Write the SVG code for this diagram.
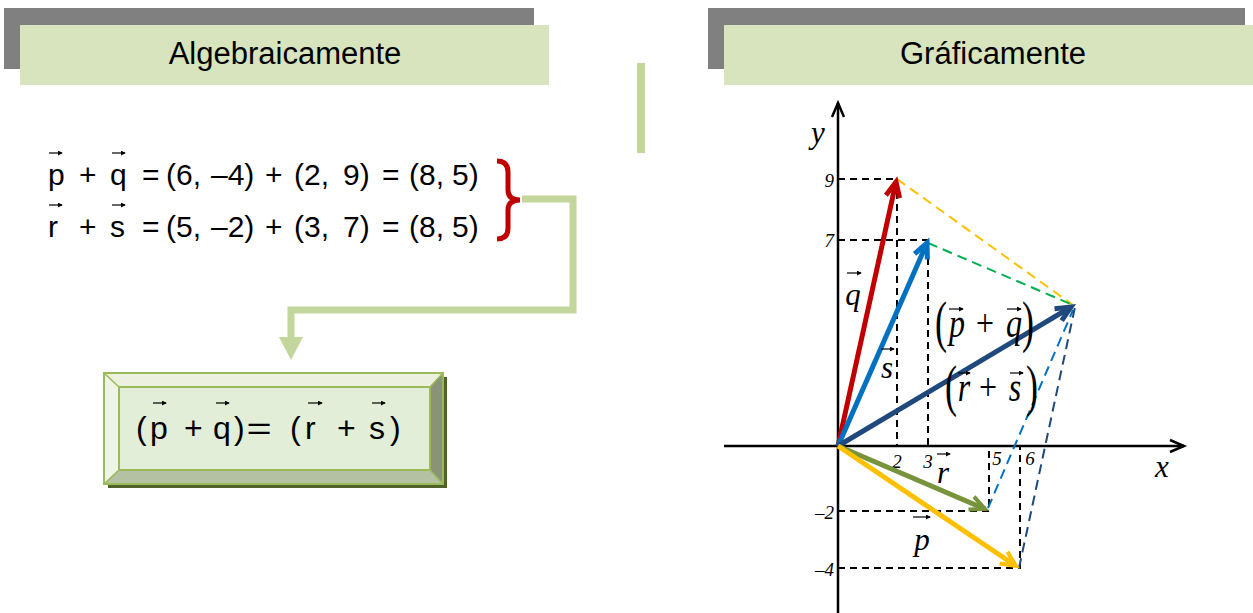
<svg xmlns="http://www.w3.org/2000/svg" width="1253" height="613" viewBox="0 0 1253 613">
<style>
.sans{font-family:"Liberation Sans",Arial,sans-serif;fill:#000}
.ser{font-family:"Liberation Serif","Times New Roman",serif;font-style:italic;fill:#000}
.up{font-family:"Liberation Serif","Times New Roman",serif;fill:#000}
.hdr-g{fill:#808080}
.hdr{fill:#D7E4BD}
.vec{stroke-width:5;fill:none}
.dash{stroke:#000;stroke-width:2;stroke-dasharray:7 5;fill:none}
.cdash{stroke-width:2;stroke-dasharray:10 6;fill:none}
.sa{stroke:#000;stroke-width:1.2;marker-end:url(#sm)}
.ax{stroke:#000;stroke-width:2.5;fill:none;marker-end:url(#axh)}
</style>
<defs>
<marker id="sm" viewBox="0 0 6 6" refX="5" refY="3" markerWidth="5" markerHeight="5" markerUnits="userSpaceOnUse" orient="auto"><path d="M0,0 L6,3 L0,6 z" fill="#000"/></marker>
<marker id="axh" viewBox="0 0 16 14" refX="15" refY="7" markerWidth="16" markerHeight="14" markerUnits="userSpaceOnUse" orient="auto" overflow="visible"><path d="M1,1 L15,7 L1,13" fill="none" stroke="#000" stroke-width="2.5"/></marker>
<marker id="hr" viewBox="0 0 20 18" refX="17" refY="9" markerWidth="20" markerHeight="18" markerUnits="userSpaceOnUse" orient="auto" overflow="visible"><path d="M2,2 L17,9 L2,16" fill="none" stroke="#C00000" stroke-width="5"/></marker>
<marker id="hb" viewBox="0 0 20 18" refX="17" refY="9" markerWidth="20" markerHeight="18" markerUnits="userSpaceOnUse" orient="auto" overflow="visible"><path d="M2,2 L17,9 L2,16" fill="none" stroke="#0070C0" stroke-width="5"/></marker>
<marker id="hn" viewBox="0 0 20 18" refX="17" refY="9" markerWidth="20" markerHeight="18" markerUnits="userSpaceOnUse" orient="auto" overflow="visible"><path d="M2,2 L17,9 L2,16" fill="none" stroke="#1F497D" stroke-width="5"/></marker>
<marker id="hg" viewBox="0 0 20 18" refX="17" refY="9" markerWidth="20" markerHeight="18" markerUnits="userSpaceOnUse" orient="auto" overflow="visible"><path d="M2,2 L17,9 L2,16" fill="none" stroke="#77933C" stroke-width="4"/></marker>
<marker id="hy" viewBox="0 0 20 18" refX="17" refY="9" markerWidth="20" markerHeight="18" markerUnits="userSpaceOnUse" orient="auto" overflow="visible"><path d="M2,2 L17,9 L2,16" fill="none" stroke="#FFC000" stroke-width="4"/></marker>
</defs>
<rect width="1253" height="613" fill="#fff"/>

<g id="title-algebraicamente">
<rect class="hdr-g" x="4" y="8" width="530" height="61"/>
<rect class="hdr" x="20" y="25" width="529" height="60"/>
<text class="sans" x="285" y="64" font-size="31" text-anchor="middle">Algebraicamente</text>
</g>

<g id="title-graficamente">
<rect class="hdr-g" x="708" y="8" width="537" height="61"/>
<rect class="hdr" x="724" y="25" width="529" height="60"/>
<text class="sans" x="993" y="64" font-size="31" text-anchor="middle">Gráficamente</text>
</g>

<g id="divider"><rect x="637" y="63" width="8" height="90" fill="#C3D69B"/></g>

<g id="equations" font-size="30">
<text class="sans" x="48" y="185">p</text>
<text class="sans" x="79" y="185">+</text>
<text class="sans" x="110" y="185">q</text>
<text class="sans" x="142" y="185">=</text>
<text class="sans" x="166" y="185">(6,</text>
<text class="sans" x="211" y="185">–4)</text>
<text class="sans" x="265" y="185">+</text>
<text class="sans" x="294" y="185">(2,</text>
<text class="sans" x="343" y="185">9)</text>
<text class="sans" x="382" y="185">=</text>
<text class="sans" x="409" y="185">(8,</text>
<text class="sans" x="452" y="185">5)</text>
<text class="sans" x="48" y="237">r</text>
<text class="sans" x="79" y="237">+</text>
<text class="sans" x="110" y="237">s</text>
<text class="sans" x="142" y="237">=</text>
<text class="sans" x="166" y="237">(5,</text>
<text class="sans" x="211" y="237">–2)</text>
<text class="sans" x="265" y="237">+</text>
<text class="sans" x="294" y="237">(3,</text>
<text class="sans" x="343" y="237">7)</text>
<text class="sans" x="382" y="237">=</text>
<text class="sans" x="409" y="237">(8,</text>
<text class="sans" x="452" y="237">5)</text>
<line class="sa" x1="49" y1="153" x2="62" y2="153"/>
<line class="sa" x1="112" y1="153" x2="125" y2="153"/>
<line class="sa" x1="49" y1="205" x2="62" y2="205"/>
<line class="sa" x1="112" y1="205" x2="125" y2="205"/>
</g>

<g id="brace">
<path d="M497,161 Q508,161 508,172 L508,190 Q508,200 520,200 Q508,200 508,210 L508,228 Q508,239 497,239" fill="none" stroke="#C00000" stroke-width="5"/>
</g>

<g id="connectors">
<path d="M522,199 L573,199 L573,310 L291,310 L291,338" fill="none" stroke="#C3D69B" stroke-width="7"/>
<polygon points="279,337 303,337 291,360" fill="#C3D69B"/>
</g>

<g id="result-box">
<rect x="108" y="377" width="339" height="111" fill="#4F6228"/>
<polygon points="104,373 443,373 430,387 119,387" fill="#EBF1DE"/>
<polygon points="104,373 119,387 119,470 104,484" fill="#EEF4E6"/>
<polygon points="443,373 443,484 430,470 430,387" fill="#8A9378"/>
<polygon points="104,484 443,484 430,470 119,470" fill="#B4C1A2"/>
<rect x="119" y="387" width="311" height="83" fill="#E2EED8" stroke="#9BBB59" stroke-width="2"/>
<rect x="104" y="373" width="339" height="111" fill="none" stroke="#9BBB59" stroke-width="2"/>
<g stroke="#9BBB59" stroke-width="1.5"><line x1="104" y1="373" x2="119" y2="387"/><line x1="443" y1="373" x2="430" y2="387"/><line x1="104" y1="484" x2="119" y2="470"/><line x1="443" y1="484" x2="430" y2="470"/></g>
<g font-size="32">
<text class="sans" x="136" y="439">(</text>
<text class="sans" x="150" y="439">p</text>
<text class="sans" x="184" y="439">+</text>
<text class="sans" x="213" y="439">q</text>
<text class="sans" x="234" y="439">)</text>
<text class="sans" x="259" y="439" text-anchor="middle" transform="translate(259,0) scale(1.35,1) translate(-259,0)">=</text>
<text class="sans" x="290" y="439">(</text>
<text class="sans" x="305" y="439">r</text>
<text class="sans" x="337" y="439">+</text>
<text class="sans" x="369" y="439">s</text>
<text class="sans" x="390" y="439">)</text>
</g>
<line class="sa" x1="153" y1="403" x2="166" y2="403"/>
<line class="sa" x1="216" y1="403" x2="229" y2="403"/>
<line class="sa" x1="308" y1="403" x2="322" y2="403"/>
<line class="sa" x1="372" y1="403" x2="385" y2="403"/>
</g>

<g id="axes">
<line class="ax" x1="724" y1="446" x2="1184" y2="446"/>
<line class="ax" x1="838" y1="613" x2="838" y2="103"/>
<text class="ser" x="818" y="143" font-size="31" text-anchor="middle">y</text>
<text class="ser" x="1162" y="477" font-size="31" text-anchor="middle">x</text>
</g>

<g id="guides">
<path class="dash" d="M838,179 H897 V446"/>
<path class="dash" d="M838,240 H928 V446"/>
<path class="dash" d="M838,511 H989 V446"/>
<path class="dash" d="M838,568 H1020 V446"/>
<line class="cdash" stroke="#FFC000" x1="897" y1="179" x2="1073" y2="305"/>
<line class="cdash" stroke="#00B050" x1="928" y1="243" x2="1073" y2="305"/>
<line class="cdash" stroke="#0070C0" stroke-width="1.6" x1="988" y1="508" x2="1073" y2="310"/>
<line class="cdash" stroke="#1F497D" x1="1019" y1="568" x2="1075" y2="307"/>
</g>

<g id="ticks" font-size="19">
<text class="ser" x="834" y="187" text-anchor="end">9</text>
<text class="ser" x="834" y="247" text-anchor="end">7</text>
<text class="ser" x="834" y="519" text-anchor="end">–2</text>
<text class="ser" x="834" y="576" text-anchor="end">–4</text>
<text class="ser" x="897" y="468" text-anchor="middle">2</text>
<text class="ser" x="928" y="468" text-anchor="middle">3</text>
<text class="ser" x="997" y="465" text-anchor="middle">5</text>
<text class="ser" x="1030" y="465" text-anchor="middle">6</text>
</g>

<g id="vectors">
<line class="vec" stroke="#C00000" marker-end="url(#hr)" x1="838" y1="446" x2="896" y2="182"/>
<line class="vec" stroke="#0070C0" marker-end="url(#hb)" x1="838" y1="446" x2="927" y2="243"/>
<line class="vec" stroke="#1F497D" marker-end="url(#hn)" x1="838" y1="446" x2="1071" y2="307"/>
<line class="vec" stroke="#77933C" marker-end="url(#hg)" x1="838" y1="446" x2="985" y2="509"/>
<line class="vec" stroke="#FFC000" marker-end="url(#hy)" x1="838" y1="446" x2="1016" y2="566"/>
</g>

<g id="vector-labels">
<text class="ser" x="853" y="305" font-size="31" text-anchor="middle">q</text>
<line class="sa" x1="847" y1="273" x2="861" y2="273"/>
<text class="ser" x="887" y="378" font-size="31" text-anchor="middle">s</text>
<line class="sa" x1="881" y1="349" x2="894" y2="349"/>
<text class="ser" x="943" y="483" font-size="31" text-anchor="middle">r</text>
<line class="sa" x1="937" y1="454" x2="950" y2="454"/>
<text class="ser" x="922" y="550" font-size="31" text-anchor="middle">p</text>
<line class="sa" x1="913" y1="517" x2="930" y2="517"/>
</g>

<g id="sum-labels">
<text class="up" transform="translate(941,341) scale(1,1.6)" font-size="36" text-anchor="middle">(</text>
<text class="ser" transform="translate(957,337) scale(1,1.35)" font-size="32" text-anchor="middle">p</text>
<text class="up" transform="translate(985,336) scale(1,1.2)" font-size="32" text-anchor="middle">+</text>
<text class="ser" transform="translate(1014,337) scale(1,1.35)" font-size="32" text-anchor="middle">q</text>
<text class="up" transform="translate(1028,341) scale(1,1.6)" font-size="36" text-anchor="middle">)</text>
<line class="sa" x1="949" y1="309" x2="963" y2="309"/>
<line class="sa" x1="1007" y1="309" x2="1021" y2="309"/>
<text class="up" transform="translate(951,405) scale(1,1.6)" font-size="36" text-anchor="middle">(</text>
<text class="ser" transform="translate(964,401) scale(1,1.35)" font-size="32" text-anchor="middle">r</text>
<text class="up" transform="translate(988,400) scale(1,1.2)" font-size="32" text-anchor="middle">+</text>
<text class="ser" transform="translate(1015,401) scale(1,1.35)" font-size="32" text-anchor="middle">s</text>
<text class="up" transform="translate(1032,405) scale(1,1.6)" font-size="36" text-anchor="middle">)</text>
<line class="sa" x1="958" y1="373" x2="970" y2="373"/>
<line class="sa" x1="1010" y1="373" x2="1023" y2="373"/>
</g>
</svg>
